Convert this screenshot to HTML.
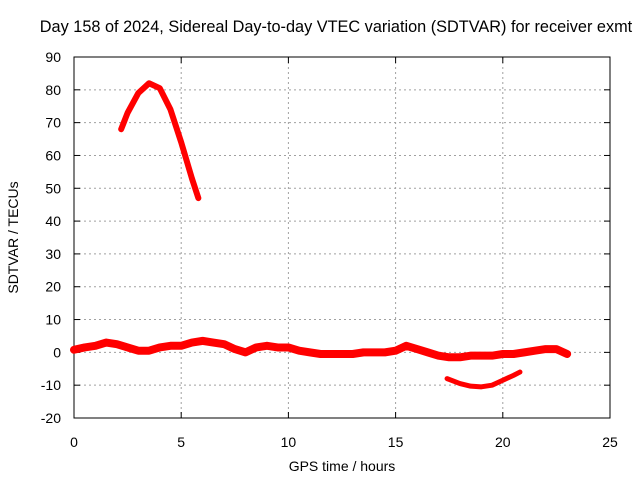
<!DOCTYPE html>
<html><head><meta charset="utf-8"><style>
body{margin:0;background:#fff}
svg text{font-family:"Liberation Sans",sans-serif;font-size:14px;fill:#000}
</style></head><body>
<svg id="c" width="640" height="480"></svg>
<script>
const xTicks=[0,5,10,15,20,25];
const yTicks=[-20,-10,0,10,20,30,40,50,60,70,80,90];
const mainHours=[0,0.5,1,1.5,2,2.5,3,3.5,4,4.5,5,5.5,6,6.5,7,7.5,8,8.5,9,9.5,10,10.5,11,11.5,12,12.5,13,13.5,14,14.5,15,15.5,16,16.5,17,17.5,18,18.5,19,19.5,20,20.5,21,21.5,22,22.5,23];
const mainValues=[0.8,1.5,2,3,2.5,1.5,0.5,0.5,1.5,2,2,3,3.5,3,2.5,1,0,1.5,2,1.5,1.5,0.5,0,-0.5,-0.5,-0.5,-0.5,0,0,0,0.5,2,1,0,-1,-1.5,-1.5,-1,-1,-1,-0.5,-0.5,0,0.5,1,1,-0.5];
const arc1Hours=[2.2,2.5,3,3.5,4,4.5,5,5.5,5.8];
const arc1Values=[68,73,79,82,80.5,74,64,53,47];
const arc2Hours=[17.4,18,18.5,19,19.5,20,20.5,20.8];
const arc2Values=[-8,-9.5,-10.3,-10.5,-10,-8.5,-7,-6];
const L=74,R=610,T=57,B=418;
const X=h=>L+(h-0)/25*(R-L);
const Y=v=>B-(v+20)/110*(B-T);
const NS='http://www.w3.org/2000/svg';
const svg=document.getElementById('c');
function mk(t,a,p){const e=document.createElementNS(NS,t);for(const k in a)e.setAttribute(k,a[k]);(p||svg).appendChild(e);return e;}
const title=mk('text',{x:336,y:32,'text-anchor':'middle','style':'font-size:16.3px'});title.textContent='Day 158 of 2024, Sidereal Day-to-day VTEC variation (SDTVAR) for receiver exmt';


xTicks.forEach(t=>{
 if(t>0&&t<25){const g=mk('line',{x1:X(t),x2:X(t),y1:T,y2:B,stroke:'#a0a0a0','stroke-dasharray':'2,3'});
 
 }
 const tx=mk('text',{x:X(t),y:B+29,'text-anchor':'middle'});tx.textContent=t;
 
 
 mk('line',{x1:X(t),x2:X(t),y1:B,y2:B-6,stroke:'#000'});
 mk('line',{x1:X(t),x2:X(t),y1:T,y2:T+6,stroke:'#000'});
});
yTicks.forEach(t=>{
 if(t>-20&&t<90){const g=mk('line',{x1:L,x2:R,y1:Y(t),y2:Y(t),stroke:'#a0a0a0','stroke-dasharray':'2,3'});
 
 }
 const tx=mk('text',{x:L-13,y:Y(t)+5,'text-anchor':'end'});tx.textContent=t;
 
 
 mk('line',{x1:L,x2:L+6,y1:Y(t),y2:Y(t),stroke:'#000'});
 mk('line',{x1:R,x2:R-6,y1:Y(t),y2:Y(t),stroke:'#000'});
});
const box=mk('rect',{x:L,y:T,width:R-L,height:B-T,fill:'none',stroke:'#000'});


const xl=mk('text',{x:(L+R)/2,y:471,'text-anchor':'middle'});xl.textContent='GPS time / hours';


const yl=mk('text',{x:0,y:0,'text-anchor':'middle',transform:`translate(18,${(T+B)/2}) rotate(-90)`});yl.textContent='SDTVAR / TECUs';


function series(hs,vs,w,name){
 const p=mk('polyline',{points:hs.map((h,i)=>X(h)+','+Y(vs[i])).join(' '),fill:'none',stroke:'#ff0000','stroke-width':w,'stroke-linejoin':'round','stroke-linecap':'round'});
 
 
}
series(mainHours,mainValues,8,'main-sdtvar-series');
series(arc1Hours,arc1Values,6,'arc-high-series');
series(arc2Hours,arc2Values,5,'arc-low-series');
</script>
</body></html>
